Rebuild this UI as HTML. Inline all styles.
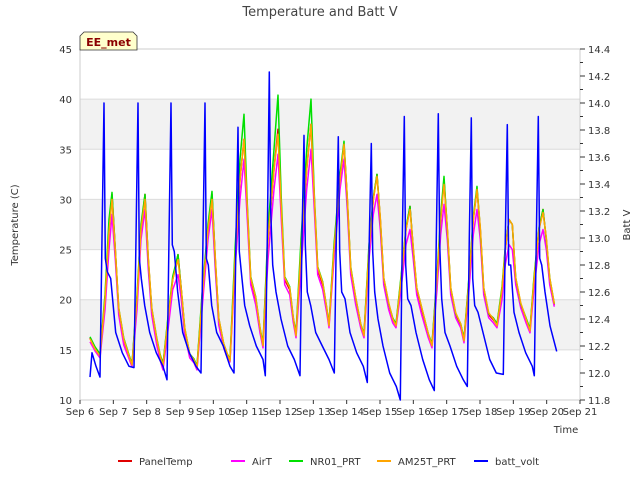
<!DOCTYPE html>
<html><head><meta charset="utf-8"><style>
body{margin:0;background:#fff;font-family:"Liberation Sans","DejaVu Sans",sans-serif;}
svg text{font-family:"DejaVu Sans","Liberation Sans",sans-serif;}
</style></head><body>
<svg id="c" width="640" height="480" viewBox="0 0 640 480">
<text x="320" y="16" text-anchor="middle" font-size="13" fill="#444">Temperature and Batt V</text>
<g id="plot"></g>
<g>
<path d="M80,50 L80,36 L84,32 L133,32 L137,36 L137,50 Z" fill="#ffffcc" stroke="#333" stroke-width="0.8"/>
<text x="108.5" y="46" text-anchor="middle" font-size="11" font-weight="bold" fill="#8b0000">EE_met</text>
</g>
<text x="18" y="225" transform="rotate(-90 18 225)" text-anchor="middle" font-size="10" fill="#333">Temperature (C)</text>
<text x="630" y="225" transform="rotate(-90 630 225)" text-anchor="middle" font-size="10" fill="#333">Batt V</text>
<text x="566" y="433" text-anchor="middle" font-size="10" fill="#333">Time</text>
<g id="legend"></g>
</svg>
<script>
const tT=[0.3,0.45,
0.6,0.75,0.87,0.96,1.06,1.16,1.31,1.46,
1.56,1.71,1.83,1.95,2.05,2.15,2.3,2.4,
2.49,2.64,2.78,2.94,3.04,3.14,3.29,3.42,
3.51,3.66,3.84,3.96,4.06,4.16,4.31,4.42,
4.5,4.65,4.8,4.92,5.02,5.12,5.27,5.4,
5.49,5.64,5.82,5.94,6.04,6.14,6.29,6.4,
6.48,6.63,6.8,6.93,7.03,7.13,7.28,7.4,
7.47,7.62,7.8,7.92,8.02,8.12,8.27,8.42,
8.52,8.67,8.8,8.91,9.01,9.11,9.26,9.38,
9.48,9.63,9.78,9.9,10.0,10.1,10.25,10.45,
10.56,10.71,10.82,10.92,11.02,11.12,11.27,11.42,
11.52,11.67,11.8,11.91,12.01,12.11,12.26,12.4,
12.51,12.66,12.76,12.87,12.97,13.07,13.22,13.38,
13.5,13.62,13.77,13.89,13.99,14.09,14.23];
const panelTemp=[16.2,15.2,
14.5,20,27,30.5,25,19,16,14.5,
13.5,20,27,30.5,24,19,16,14.5,
13.5,18,22,24.5,21,17,14.5,14,
13.3,20,27,30.5,24,18,15.5,14.5,
14,24,32,36,29,22,20,17,
15.5,26,33,37,29,22,21,18,
16.5,25,33,37.5,30,23,21.5,19,
17.5,25,32,35.5,30,23,20,17.5,
16.5,25,30,32.5,28,22,19.5,18,
17.5,22,27,29.3,25,21,19,16.5,
15.5,22,28,32,27,21,18.5,17.5,
16,22,28,31,27,21,18.5,18,
17.5,21,25,28,27.5,22,19.5,18,
17,22,27,29,26,22,19.5];
const airT=[15.8,14.9,
14.2,19,25,28.5,24,18.5,15.5,14.2,
13.3,19,26,29,23,18.5,15.5,14,
13,17,21,22.5,20,16.5,14.2,13.7,
13,19,26,29,23,17.5,15.2,14.2,
13.8,23,30,34,28,21.5,19.5,16.7,
15.2,24,31,34.5,28,21.5,20.5,17.7,
16.2,23,31,35,29,22.5,21,18.7,
17.2,24,31,34,29,22.5,19.5,17.2,
16.2,24,28.5,30.5,27,21.5,19,17.7,
17.2,21,25.5,27,24,20.5,18.5,16.2,
15.2,21,26.5,29.5,26,20.5,18.2,17.2,
15.7,21,26.5,29,26,20.5,18.2,17.7,
17.2,20,23.5,25.5,25,21.5,19.2,17.7,
16.7,21,25.5,27,25,21.5,19.3];
const nr01=[16.3,15.3,
14.6,20.5,28,30.7,25,19.2,16.2,14.6,
13.6,20.5,27.5,30.5,24,19.2,16.2,14.6,
13.6,18.3,22.3,24.5,21,17.2,14.6,14.1,
13.4,20.5,27.5,30.8,24,18.2,15.6,14.6,
14.1,25,34,38.5,29.5,22.3,20.3,17.2,
15.6,27,35,40.4,30,22.3,21.3,18.2,
16.6,26,35,40,30.5,23.3,21.8,19.2,
17.6,25.5,32.5,35.8,30,23.3,20.2,17.6,
16.6,25.5,30.2,32.5,28,22.2,19.6,18.2,
17.6,22.3,27.2,29.3,25,21.2,19.2,16.6,
15.6,22.5,28.5,32.3,27,21.2,18.6,17.6,
16.1,22.3,28.3,31.3,27,21.2,18.6,18.2,
17.6,21.3,25.3,28,27.5,22.2,19.6,18.2,
17.1,22.3,27.2,29,26,22.2,19.6];
const am25t=[16.1,15.1,
14.4,20,26.8,30,25,19.2,16.1,14.5,
13.5,20,27,30,24.2,19.2,16.1,14.5,
13.4,18,22,24,21,17.2,14.6,14,
13.2,20,27,30,24.2,18.2,15.6,14.6,
13.9,24,32,36,29.2,22.2,20.2,17.2,
15.4,26,33,36.5,29.2,22.2,21.2,18.2,
16.4,25,33,37.5,30.2,23.2,21.7,19.2,
17.4,25,32,35.5,30.2,23.2,20.2,17.6,
16.4,25,30,32.3,28.2,22.2,19.7,18.1,
17.4,22,27,29,25.2,21.2,19.2,16.6,
15.4,22,28,31.5,27.2,21.2,18.7,17.6,
15.9,22,28,31,27.2,21.2,18.7,18.1,
17.4,21,25,28,27.5,22.2,19.7,18.1,
16.9,22,27,28.7,26.2,22.2,19.6];
const battT=[0.3,0.36,0.48,
0.6,0.66,0.72,0.76,0.82,0.92,1.07,1.27,1.47,
1.62,1.68,1.74,1.78,1.84,1.94,2.09,2.29,2.49,
2.61,2.67,2.73,2.77,2.83,2.93,3.08,3.28,3.48,
3.63,3.69,3.75,3.79,3.85,3.95,4.1,4.3,4.5,
4.62,4.68,4.74,4.78,4.84,4.94,5.09,5.29,5.49,
5.56,5.62,5.68,5.72,5.78,5.88,6.03,6.23,6.43,
6.6,6.66,6.72,6.76,6.82,6.92,7.07,7.27,7.47,
7.63,7.69,7.75,7.79,7.85,7.95,8.1,8.3,8.5,
8.62,8.68,8.74,8.78,8.84,8.94,9.09,9.29,9.49,
9.61,9.67,9.73,9.77,9.83,9.93,10.08,10.28,10.48,
10.63,10.69,10.75,10.79,10.85,10.95,11.1,11.3,11.5,
11.62,11.68,11.74,11.78,11.84,11.94,12.09,12.29,12.49,
12.7,12.76,12.82,12.86,12.92,13.02,13.17,13.37,13.57,
13.63,13.69,13.75,13.79,13.85,13.95,14.1,14.3];
const battV=[11.97,12.15,12.05,
11.97,13.0,14.0,12.85,12.75,12.7,12.3,12.15,12.05,
12.04,13.0,14.0,12.85,12.7,12.5,12.3,12.15,12.05,
11.95,13.0,14.0,12.95,12.9,12.6,12.3,12.15,12.05,
12.0,13.0,14.0,12.85,12.8,12.5,12.3,12.2,12.05,
12.0,13.0,13.82,12.9,12.75,12.5,12.35,12.2,12.1,
11.98,13.0,14.23,13.2,12.8,12.6,12.4,12.2,12.1,
11.98,13.0,13.76,12.95,12.6,12.5,12.3,12.2,12.1,
12.0,13.0,13.75,12.9,12.6,12.55,12.3,12.15,12.05,
11.93,13.0,13.7,12.9,12.6,12.4,12.2,12.0,11.9,
11.8,13.0,13.9,12.8,12.55,12.5,12.3,12.1,11.95,
11.87,13.0,13.92,12.95,12.55,12.3,12.2,12.05,11.95,
11.9,13.0,13.89,12.7,12.5,12.45,12.3,12.1,12.0,
11.99,13.0,13.84,12.8,12.8,12.45,12.3,12.15,12.05,
11.98,13.0,13.9,12.85,12.8,12.6,12.35,12.16];
const yTicks=[10,15,20,25,30,35,40,45];
const y2Ticks=[11.8,12.0,12.2,12.4,12.6,12.8,13.0,13.2,13.4,13.6,13.8,14.0,14.2,14.4];
const xLabels=["Sep 6","Sep 7","Sep 8","Sep 9","Sep 10","Sep 11","Sep 12","Sep 13","Sep 14","Sep 15","Sep 16","Sep 17","Sep 18","Sep 19","Sep 20","Sep 21"];

const L=80,R=580,T=49,B=400,NS='http://www.w3.org/2000/svg';
const xs=d=>L+(R-L)*d/15;
const ys=v=>B-(B-T)*(v-10)/35;
const ys2=v=>B-(B-T)*(v-11.8)/2.6;
const plot=document.getElementById('plot');
function mk(tag,at,parent){const e=document.createElementNS(NS,tag);for(const k in at)e.setAttribute(k,at[k]);(parent||plot).appendChild(e);return e;}
let bg=mk('rect',{x:L,y:T,width:R-L,height:B-T,fill:'#fff'});


for(let i=0;i<yTicks.length-1;i++){
  if(i%2===1){let b=mk('rect',{x:L,y:ys(yTicks[i+1]),width:R-L,height:ys(yTicks[i])-ys(yTicks[i+1]),fill:'#f2f2f2'});
  
  }
}
yTicks.forEach(v=>{
  let g=mk('line',{x1:L,x2:R,y1:ys(v),y2:ys(v),stroke:'#dcdcdc','stroke-width':1});
  
  
  let t=mk('text',{x:L-8,y:ys(v)+4,'text-anchor':'end','font-size':10,fill:'#333'});t.textContent=v;
  
  
});
mk('rect',{x:L,y:T,width:R-L,height:B-T,fill:'none',stroke:'#ccc','stroke-width':1});
y2Ticks.forEach((v,i)=>{
  let tk=mk('line',{x1:R,x2:R+5,y1:ys2(v),y2:ys2(v),stroke:'#333'});
  
  
  let t=mk('text',{x:R+8,y:ys2(v)+4,'font-size':10,fill:'#333'});t.textContent=v.toFixed(1);
  
  
  if(i<y2Ticks.length-1){let m=mk('line',{x1:R,x2:R+3,y1:ys2(v+0.1),y2:ys2(v+0.1),stroke:'#333'});
  
  }
});
xLabels.forEach((s,i)=>{
  let tk=mk('line',{x1:xs(i),x2:xs(i),y1:B,y2:B+4,stroke:'#333'});
  
  
  let t=mk('text',{x:xs(i),y:B+15,'text-anchor':'middle','font-size':10,fill:'#333'});t.textContent=s;
  
  
});
function line(ts,vs,yf,col,name){
  let d=ts.map((t,i)=>(i?'L':'M')+xs(t).toFixed(1)+','+yf(vs[i]).toFixed(1)).join('');
  let p=mk('path',{d:d,fill:'none',stroke:col,'stroke-width':1.5,'stroke-linejoin':'round'});
  
  
}
line(tT,panelTemp,ys,'#e00000','series-paneltemp');
line(tT,airT,ys,'#ff00ff','series-airt');
line(tT,nr01,ys,'#00e000','series-nr01-prt');
line(tT,am25t,ys,'#ffa500','series-am25t-prt');
line(battT,battV,ys2,'#0000ff','series-batt-volt');
const legItems=[["PanelTemp","#e00000",118],["AirT","#ff00ff",231],["NR01_PRT","#00e000",289],["AM25T_PRT","#ffa500",377],["batt_volt","#0000ff",474]];
const lg=document.getElementById('legend');
legItems.forEach(it=>{
  let g=mk('g',{},lg);
  
  
  mk('line',{x1:it[2],x2:it[2]+14,y1:461,y2:461,stroke:it[1],'stroke-width':2},g);
  let t=mk('text',{x:it[2]+21,y:465,'font-size':10,fill:'#333'},g);t.textContent=it[0];
});
</script>
</body></html>
